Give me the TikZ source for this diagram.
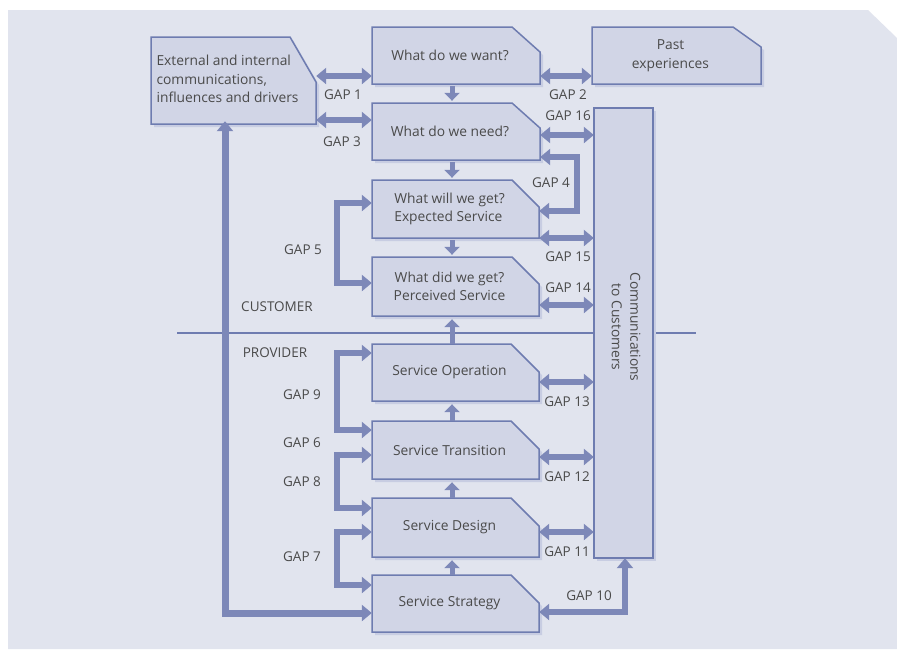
\documentclass[tikz,border=0pt]{standalone}
\usepackage{fontspec}
\setmainfont{Open Sans}
\usetikzlibrary{arrows.meta}

\definecolor{bgc}{HTML}{E1E4EE}
\definecolor{boxfill}{HTML}{D1D5E6}
\definecolor{boxline}{HTML}{6E7CB0}
\definecolor{arr}{HTML}{7D88B8}
\definecolor{shadowc}{HTML}{C8CDE2}
\definecolor{txt}{HTML}{4A4A4A}

\tikzset{
  boxline/.style={draw=boxline, line width=1.5pt, fill=boxfill, line join=miter},
  boxshadow/.style={fill=shadowc},
  boxarea/.style={inner sep=0pt},
  boxtext/.style={inner sep=0pt, text=txt, align=center,
    font=\fontsize{13.8}{18.5}\selectfont},
  gaplabel/.style={inner sep=0pt, text=txt, font=\fontsize{13.5}{15}\selectfont},
  arrbase/.style={draw=arr, line width=5.5pt, line join=miter},
  twohead/.style={arrbase, {Triangle[length=10pt,width=16pt]}-{Triangle[length=10pt,width=16pt]}},
  flowarrow/.style={draw=arr, line width=5pt, -{Triangle[length=8pt,width=15pt]}},
}

% cut-corner box: name, x1, y1, x2, y2, cut width, cut height, text
% the text sits a little left of centre, clear of the clipped corner
\newcommand\cutbox[8]{%
  \fill[boxshadow] (#2+3,#3+3) -- (#4-#6+3,#3+3) -- (#4+3,#3+#7+3) -- (#4+3,#5+3) -- (#2+3,#5+3) -- cycle;
  \path[boxline] (#2,#3) -- (#4-#6,#3) -- (#4,#3+#7) -- (#4,#5) -- (#2,#5) -- cycle;
  \node[boxarea, minimum width=#4-#2, minimum height=#5-#3] (#1) at ({(#2+#4)/2},{(#3+#5)/2}) {};
  \node[boxtext] (#1-text) at ({(#2+#4)/2-6},{(#3+#5)/2}) {#8};
}

\begin{document}
\begin{tikzpicture}[x=1pt,y=-1pt]
  \useasboundingbox (0,0) rectangle (897,649);
  \fill[white] (0,0) rectangle (897,649);
  % backdrop panel with its clipped corner
  \fill[bgc] (8,10) -- (868,10) -- (897,38) -- (897,649) -- (8,649) -- cycle;

  % customer / provider divider
  \draw[boxline, fill=none, line width=1.5pt] (177,333) -- (696,333);

  % boxes
  \cutbox{ext}{151}{37}{316}{124}{26}{45}{\begin{tabular}{@{}l@{}}External and internal\\communications,\\influences and drivers\end{tabular}}
  \cutbox{want}{372}{27}{540}{84}{28}{25}{What do we want?}
  \cutbox{past}{592}{27}{761}{84}{28}{20}{Past\\experiences}
  \cutbox{need}{372}{103}{540}{160}{28}{25}{What do we need?}
  \cutbox{will}{372}{180}{539}{238}{27}{27}{\begin{tabular}{@{}l@{}}What will we get?\\Expected Service\end{tabular}}
  \cutbox{did}{372}{257}{539}{316}{27}{27}{What did we get?\\Perceived Service}
  \cutbox{op}{372}{344}{539}{401}{28}{28}{Service Operation}
  \cutbox{trans}{372}{421}{539}{479}{28}{28}{Service Transition}
  \cutbox{design}{372}{498}{539}{557}{28}{28}{Service Design}
  \cutbox{strat}{372}{575}{539}{632}{28}{28}{Service Strategy}

  % communications column
  \fill[boxshadow] (597,111) rectangle (656,561);
  \path[boxline] (594,108) rectangle (653,558);
  \node[boxarea, minimum width=59pt, minimum height=450pt] (comms) at (623.5,333) {};
  \node[boxtext, rotate=-90] (comms-text) at (626,327) {Communications\\to Customers};

  % flow arrows between stacked boxes
  \draw[flowarrow] ([yshift=-2pt]want.south -| 452,0) -- ([yshift=2pt]need.north -| 452,0);
  \draw[flowarrow] ([yshift=-2pt]need.south -| 452,0) -- ([yshift=2pt]will.north -| 452,0);
  \draw[flowarrow] ([yshift=-2pt]will.south -| 452,0) -- ([yshift=2pt]did.north -| 452,0);
  \draw[flowarrow] (op.north -| 452,0) -- ([yshift=-3pt]did.south -| 452,0);
  \draw[flowarrow] (trans.north -| 452,0) -- ([yshift=-3pt]op.south -| 452,0);
  \draw[flowarrow] (design.north -| 452,0) -- ([yshift=-3pt]trans.south -| 452,0);
  \draw[flowarrow] (strat.north -| 452,0) -- ([yshift=-3pt]design.south -| 452,0);

  % gaps at the top
  \draw[twohead] (ext.east |- 0,76) -- (want.west |- 0,76);
  \draw[twohead] (ext.east |- 0,120) -- (need.west |- 0,120);
  \draw[twohead] (want.east |- 0,76) -- (past.west |- 0,76);

  % gaps against the communications column
  \draw[twohead] (need.east |- 0,135) -- (comms.west |- 0,135);
  \draw[twohead] (will.east |- 0,238) -- (comms.west |- 0,238);
  \draw[twohead] (did.east |- 0,305) -- (comms.west |- 0,305);
  \draw[twohead] (op.east |- 0,382) -- (comms.west |- 0,382);
  \draw[twohead] (trans.east |- 0,457) -- (comms.west |- 0,457);
  \draw[twohead] (design.east |- 0,532) -- (comms.west |- 0,532);

  % brackets
  \coordinate (g4) at (577,157);
  \draw[twohead] (need.east |- g4) -- (g4) -- (577,211) -- (will.east |- 0,211);
  \coordinate (g10) at (625,612);
  \draw[twohead] (comms.south -| g10) -- (g10) -- (strat.east |- g10);
  \coordinate (g5) at (337,203);
  \draw[twohead] (will.west |- g5) -- (g5) -- (337,283) -- (did.west |- 0,283);
  \coordinate (g9) at (337,353);
  \draw[twohead] (op.west |- g9) -- (g9) -- (337,430) -- (trans.west |- 0,430);
  \coordinate (g8) at (337,455);
  \draw[twohead] (trans.west |- g8) -- (g8) -- (337,508) -- (design.west |- 0,508);
  \coordinate (g7) at (337,532);
  \draw[twohead] (design.west |- g7) -- (g7) -- (337,585) -- (strat.west |- 0,585);
  \coordinate (lt) at (225,613);
  \draw[twohead, line width=7pt] ([yshift=3pt]ext.south -| lt) -- (lt) -- (strat.west |- lt);

  % labels
  \node[gaplabel] (l1) at (343,95) {GAP 1};
  \node[gaplabel] (l3) at (342,142) {GAP 3};
  \node[gaplabel] (l2) at (568,95) {GAP 2};
  \node[gaplabel] (l16) at (568,116) {GAP 16};
  \node[gaplabel] (l4) at (551,183) {GAP 4};
  \node[gaplabel] (l15) at (568,257) {GAP 15};
  \node[gaplabel] (l14) at (568,288) {GAP 14};
  \node[gaplabel] (l13) at (567,402) {GAP 13};
  \node[gaplabel] (l12) at (567,477) {GAP 12};
  \node[gaplabel] (l11) at (567,552) {GAP 11};
  \node[gaplabel] (l10) at (589,596) {GAP 10};
  \node[gaplabel] (l5) at (303,250) {GAP 5};
  \node[gaplabel] (l9) at (302,395) {GAP 9};
  \node[gaplabel] (l6) at (302,443) {GAP 6};
  \node[gaplabel] (l8) at (302,482) {GAP 8};
  \node[gaplabel] (l7) at (302,557) {GAP 7};
  \node[gaplabel] (cust) at (277,307) {CUSTOMER};
  \node[gaplabel] (prov) at (275,353) {PROVIDER};
\end{tikzpicture}
\end{document}
